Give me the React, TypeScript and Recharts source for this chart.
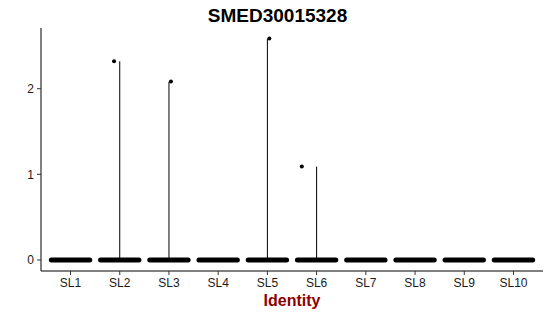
import { ComposedChart, Scatter, XAxis, YAxis } from "recharts";

// cluster identities along the x axis
const categories = ["SL1", "SL2", "SL3", "SL4", "SL5", "SL6", "SL7", "SL8", "SL9", "SL10"];

// violin tops (max expression per cluster), 0 = every cell is zero
const maxExpr = [0, 2.32, 2.08, 0, 2.58, 1.09, 0, 0, 0, 0];

// the few non-zero cells: cluster position with its jitter, and expression
const outlierX = [1.884, 3.04, 5.04, 5.7];
const outlierY = [2.32, 2.085, 2.585, 1.09];

const yTicks = [0, 1, 2];

const FONT = '"Liberation Sans", Arial, Helvetica, sans-serif';
const JITTER = 0.39;

const xTicks = categories.map((_, i) => i + 1);

// the dense cloud of zero cells in each cluster
const zeroClouds = categories.map((_, i) => [
  { x: i + 1 - JITTER, y: 0 },
  { x: i + 1 + JITTER, y: 0 },
]);

const violins = maxExpr
  .map((m, i) => ({ m, i }))
  .filter((d) => d.m > 0)
  .map((d) => [
    { x: d.i + 1, y: 0 },
    { x: d.i + 1, y: d.m },
  ]);

const outliers = outlierX.map((x, i) => ({ x, y: outlierY[i] }));

const noShape = () => <g />;
const dot = (p: any) => <circle cx={p.cx} cy={p.cy} r={2} fill="#000" />;

export default function App() {
  return (
    <div style={{ position: "absolute", left: 0, top: 0, width: 550, height: 316, background: "#fff" }}>
      <div
        style={{
          position: "absolute",
          left: 0,
          top: 6,
          width: 555,
          textAlign: "center",
          fontFamily: FONT,
          fontWeight: "bold",
          fontSize: 19,
          lineHeight: "19px",
          color: "#000",
        }}
      >
        SMED30015328
      </div>
      <ComposedChart width={550} height={316} margin={{ top: 28, right: 7, bottom: 0, left: 0 }}>
        <XAxis
          type="number"
          dataKey="x"
          domain={[0.4, 10.6]}
          ticks={xTicks}
          tickFormatter={(v: number) => categories[v - 1]}
          allowDataOverflow
          height={45}
          axisLine={{ stroke: "#000", strokeWidth: 1 }}
          tickLine={{ stroke: "#333" }}
          tickSize={4}
          tickMargin={3}
          tick={{ fill: "#1a1a1a", fontSize: 12, fontFamily: FONT }}
          label={{
            value: "Identity",
            position: "insideBottom",
            offset: 10,
            fill: "#8B0000",
            fontSize: 16,
            fontWeight: "bold",
            fontFamily: FONT,
          }}
        />
        <YAxis
          type="number"
          dataKey="y"
          domain={[-0.129, 2.709]}
          ticks={yTicks}
          allowDataOverflow
          width={41}
          axisLine={{ stroke: "#000", strokeWidth: 1 }}
          tickLine={{ stroke: "#333" }}
          tickSize={4}
          tickMargin={3}
          tick={{ fill: "#1a1a1a", fontSize: 12, fontFamily: FONT }}
        />
        {violins.map((v, i) => (
          <Scatter
            key={"v" + i}
            data={v}
            line={{ stroke: "#000", strokeWidth: 1 }}
            shape={noShape}
            isAnimationActive={false}
            legendType="none"
          />
        ))}
        {zeroClouds.map((c, i) => (
          <Scatter
            key={"z" + i}
            data={c}
            line={{ stroke: "#000", strokeWidth: 5, strokeLinecap: "round" }}
            shape={noShape}
            isAnimationActive={false}
            legendType="none"
          />
        ))}
        <Scatter data={outliers} shape={dot} isAnimationActive={false} legendType="none" />
      </ComposedChart>
    </div>
  );
}
